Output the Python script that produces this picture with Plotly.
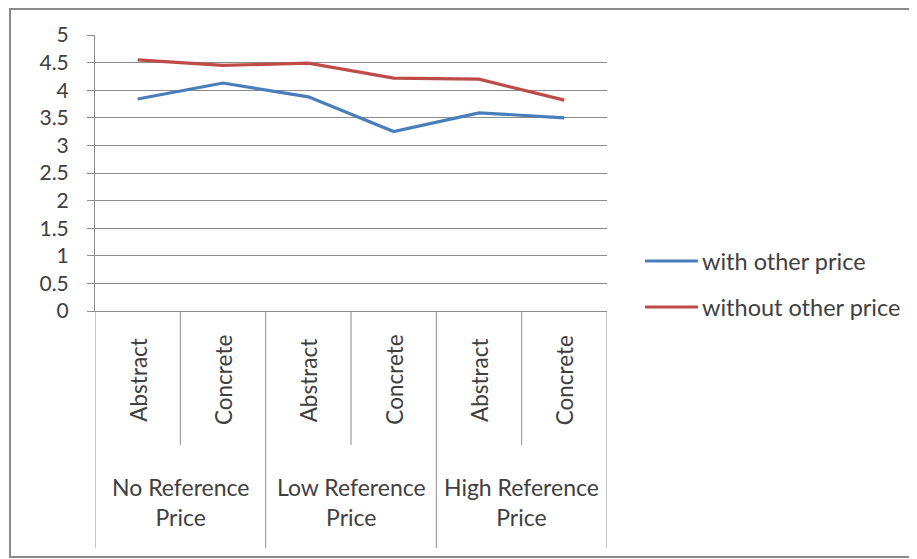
import plotly.graph_objects as go

# ---- data ----
categories = ["Abstract", "Concrete", "Abstract", "Concrete", "Abstract", "Concrete"]
groups = ["No Reference<br>Price", "Low Reference<br>Price", "High Reference<br>Price"]
series_names = ["with other price", "without other price"]
with_other = [3.84, 4.13, 3.88, 3.25, 3.59, 3.50]
without_other = [4.55, 4.45, 4.49, 4.22, 4.20, 3.82]
y_ticks = [0, 0.5, 1, 1.5, 2, 2.5, 3, 3.5, 4, 4.5, 5]
y_tick_text = ["0", "0.5", "1", "1.5", "2", "2.5", "3", "3.5", "4", "4.5", "5"]

# page body has an 8px margin; work in screen pixels and convert
OFF = 8
SW, SH = 917, 559
W, H = SW - OFF, SH - OFF
PL, PR, PT, PB = 95, 607, 35, 311  # plot area on screen
L = PL - OFF
R = W - (PR - OFF)
T = PT - OFF
B = H - (PB - OFF)
plot_w = PR - PL
plot_h = PB - PT

def px_x(sx):
    return (sx - PL) / plot_w

def px_y(sy):
    return (PB - sy) / plot_h

FONT = "Lato"
TXT = "#404040"
GRID = "#8c8c8c"
COLORS = ["#4A7EBB", "#BE4B48"]

x_idx = list(range(len(categories)))

fig = go.Figure()
for name, vals, col in zip(series_names, [with_other, without_other], COLORS):
    fig.add_trace(go.Scatter(x=x_idx, y=vals, mode="lines", name=name,
                             line=dict(color=col, width=3.2), showlegend=False))

annotations = []
shapes = []

# category labels (rotated)
for i, c in enumerate(categories):
    annotations.append(dict(x=i, y=px_y(380), xref="x", yref="paper", text=c,
                            textangle=-90, showarrow=False,
                            font=dict(size=22.5, color=TXT, family=FONT),
                            xanchor="center", yanchor="middle"))
# group labels
for g_i, g in enumerate(groups):
    annotations.append(dict(x=2 * g_i + 0.5, y=px_y(502), xref="x", yref="paper", text=g,
                            showarrow=False, font=dict(size=23, color=TXT, family=FONT),
                            xanchor="center", yanchor="middle"))

# divider lines under axis
for b in range(len(categories) + 1):
    xb = b - 0.5
    y_end = px_y(548) if b % 2 == 0 else px_y(445)
    shapes.append(dict(type="line", xref="x", yref="paper", x0=xb, x1=xb, y0=0, y1=y_end,
                       line=dict(color=GRID, width=1)))

# manual legend
for k, (name, col) in enumerate(zip(series_names, COLORS)):
    ly = [261, 307][k]
    shapes.append(dict(type="line", xref="paper", yref="paper",
                       x0=px_x(645), x1=px_x(698), y0=px_y(ly), y1=px_y(ly),
                       line=dict(color=col, width=3.2)))
    annotations.append(dict(x=px_x(700), y=px_y(ly), xref="paper", yref="paper", text=name,
                            showarrow=False, xanchor="left", yanchor="middle",
                            font=dict(size=23.5, color=TXT, family=FONT)))

# outer border (right edge lies beyond the visible page)
shapes.append(dict(type="rect", xref="paper", yref="paper",
                   x0=px_x(10), x1=px_x(930),
                   y0=px_y(557), y1=px_y(9),
                   line=dict(color="#8a8a8a", width=2), layer="below"))

fig.update_layout(
    width=W, height=H,
    margin=dict(l=L, r=R, t=T, b=B, autoexpand=False),
    paper_bgcolor="white", plot_bgcolor="white",
    font=dict(family=FONT, color=TXT),
    xaxis=dict(range=[-0.5, len(categories) - 0.5], showticklabels=False, showgrid=False,
               zeroline=False, showline=True, linecolor=GRID, linewidth=1, ticks="",
               automargin=False),
    yaxis=dict(range=[0, 5], tickvals=y_ticks, ticktext=y_tick_text, showgrid=True,
               gridcolor=GRID, gridwidth=1, zeroline=False, showline=True, linecolor=GRID,
               linewidth=1, ticks="outside", ticklen=7, tickcolor=GRID,
               ticklabelstandoff=14, automargin=False,
               tickfont=dict(size=21, color=TXT, family=FONT)),
    showlegend=False,
    annotations=annotations,
    shapes=shapes,
)

fig.write_html("out.html")
